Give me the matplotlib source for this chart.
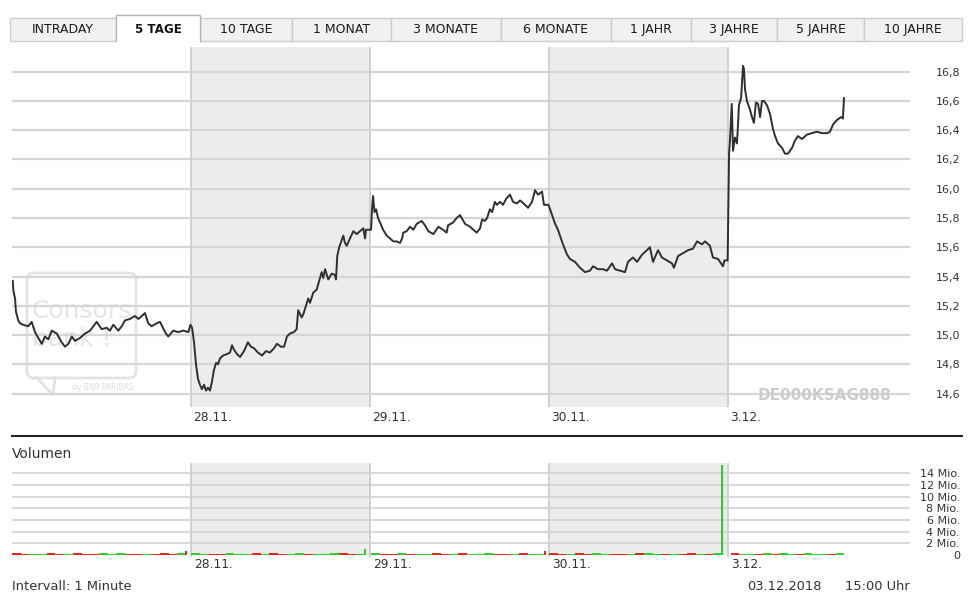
import matplotlib
matplotlib.use("Agg")
import matplotlib.pyplot as plt
import matplotlib.transforms as mtransforms
from matplotlib.patches import Rectangle, FancyBboxPatch
import numpy as np

plt.rcParams["font.family"] = ["DejaVu Sans"]

# ---------------- data ----------------
tab_labels = ["INTRADAY", "5 TAGE", "10 TAGE", "1 MONAT", "3 MONATE",
              "6 MONATE", "1 JAHR", "3 JAHRE", "5 JAHRE", "10 JAHRE"]
active_tab = "5 TAGE"
day_labels = ["27.11.", "28.11.", "29.11.", "30.11.", "3.12."]
shaded_days = [1, 3]

# price per trading day: position inside the session (0..1) and price
d1_t = [0.004, 0.008, 0.017, 0.022, 0.035, 0.045, 0.063, 0.091, 0.110, 0.128,
        0.147, 0.166, 0.184, 0.203, 0.222, 0.250, 0.278, 0.296, 0.315, 0.334,
        0.352, 0.380, 0.408, 0.436, 0.473, 0.501, 0.529, 0.547, 0.566, 0.594,
        0.613, 0.631, 0.659, 0.687, 0.706, 0.725, 0.743, 0.761, 0.780, 0.808,
        0.827, 0.855, 0.873, 0.901, 0.929, 0.957, 0.985, 0.997]
d1_p = [15.37, 15.30, 15.25, 15.16, 15.10, 15.08, 15.07, 15.06, 15.09, 15.02,
        14.98, 14.94, 14.99, 14.97, 15.03, 15.01, 14.95, 14.92, 14.94, 14.99,
        14.96, 14.98, 15.01, 15.03, 15.09, 15.04, 15.05, 15.03, 15.07, 15.03,
        15.06, 15.10, 15.11, 15.13, 15.11, 15.13, 15.15, 15.08, 15.06, 15.08,
        15.09, 15.02, 14.99, 15.03, 15.02, 15.03, 15.02, 15.07]

d2_t = [0.006, 0.017, 0.028, 0.039, 0.050, 0.061, 0.073, 0.084, 0.095, 0.106,
        0.117, 0.128, 0.140, 0.151, 0.162, 0.179, 0.201, 0.218, 0.229, 0.240,
        0.257, 0.274, 0.296, 0.318, 0.335, 0.352, 0.374, 0.397, 0.419, 0.441,
        0.464, 0.480, 0.503, 0.520, 0.536, 0.553, 0.575, 0.590, 0.599, 0.618,
        0.627, 0.655, 0.665, 0.683, 0.702, 0.730, 0.739, 0.749, 0.767, 0.786,
        0.804, 0.810, 0.817, 0.828, 0.851, 0.860, 0.870, 0.888, 0.907, 0.926,
        0.944, 0.963, 0.972, 0.978, 0.997]
d2_p = [15.05, 14.95, 14.80, 14.70, 14.66, 14.63, 14.66, 14.62, 14.64, 14.62,
        14.68, 14.76, 14.81, 14.80, 14.84, 14.86, 14.87, 14.88, 14.93, 14.90,
        14.87, 14.85, 14.89, 14.95, 14.92, 14.91, 14.88, 14.86, 14.89, 14.88,
        14.91, 14.94, 14.92, 14.92, 14.99, 15.01, 15.02, 15.04, 15.17, 15.12,
        15.14, 15.25, 15.22, 15.29, 15.31, 15.43, 15.39, 15.45, 15.38, 15.42,
        15.41, 15.38, 15.54, 15.60, 15.68, 15.63, 15.61, 15.66, 15.71, 15.69,
        15.71, 15.73, 15.66, 15.72, 15.72]

d3_t = [0.006, 0.011, 0.017, 0.025, 0.034, 0.045, 0.056, 0.073, 0.093, 0.112,
        0.130, 0.149, 0.168, 0.179, 0.186, 0.205, 0.223, 0.242, 0.261, 0.289,
        0.307, 0.326, 0.354, 0.382, 0.408, 0.428, 0.436, 0.465, 0.484, 0.503,
        0.531, 0.559, 0.577, 0.596, 0.615, 0.626, 0.642, 0.654, 0.670, 0.682,
        0.698, 0.709, 0.726, 0.743, 0.760, 0.782, 0.799, 0.821, 0.838, 0.849,
        0.866, 0.883, 0.905, 0.922, 0.939, 0.961, 0.972, 0.997]
d3_p = [15.72, 15.86, 15.95, 15.84, 15.86, 15.80, 15.77, 15.72, 15.68, 15.66,
        15.64, 15.64, 15.63, 15.66, 15.70, 15.71, 15.74, 15.72, 15.76, 15.78,
        15.75, 15.71, 15.69, 15.74, 15.72, 15.70, 15.75, 15.77, 15.80, 15.82,
        15.76, 15.74, 15.72, 15.70, 15.73, 15.79, 15.78, 15.80, 15.86, 15.84,
        15.91, 15.89, 15.91, 15.89, 15.93, 15.96, 15.91, 15.90, 15.92, 15.91,
        15.89, 15.87, 15.91, 15.99, 15.96, 15.98, 15.89, 15.89]

d4_t = [0.006, 0.017, 0.034, 0.050, 0.061, 0.078, 0.101, 0.117, 0.145, 0.173,
        0.201, 0.229, 0.246, 0.274, 0.302, 0.324, 0.352, 0.369, 0.397, 0.425,
        0.441, 0.469, 0.492, 0.520, 0.547, 0.564, 0.581, 0.609, 0.631, 0.659,
        0.687, 0.698, 0.721, 0.749, 0.777, 0.804, 0.827, 0.855, 0.872, 0.899,
        0.916, 0.944, 0.961, 0.972, 0.980, 0.998]
d4_p = [15.86, 15.82, 15.76, 15.72, 15.68, 15.62, 15.55, 15.52, 15.50, 15.46,
        15.43, 15.44, 15.47, 15.45, 15.45, 15.44, 15.49, 15.45, 15.44, 15.43,
        15.50, 15.53, 15.50, 15.55, 15.58, 15.60, 15.50, 15.58, 15.53, 15.51,
        15.49, 15.46, 15.54, 15.56, 15.58, 15.59, 15.64, 15.62, 15.64, 15.61,
        15.53, 15.52, 15.49, 15.47, 15.51, 15.51]

d5_t = [0.006, 0.011, 0.021, 0.028, 0.039, 0.050, 0.056, 0.061, 0.073, 0.084,
        0.089, 0.095, 0.106, 0.123, 0.134, 0.145, 0.156, 0.168, 0.179, 0.190,
        0.201, 0.218, 0.235, 0.251, 0.263, 0.279, 0.302, 0.318, 0.335, 0.358,
        0.374, 0.391, 0.413, 0.441, 0.469, 0.497, 0.525, 0.553, 0.570, 0.587,
        0.609, 0.631, 0.642, 0.648]
d5_p = [16.24, 16.33, 16.58, 16.26, 16.35, 16.31, 16.44, 16.57, 16.62, 16.84,
        16.82, 16.68, 16.60, 16.54, 16.49, 16.45, 16.59, 16.58, 16.49, 16.60,
        16.60, 16.57, 16.51, 16.41, 16.36, 16.31, 16.28, 16.24, 16.24, 16.28,
        16.33, 16.36, 16.34, 16.37, 16.38, 16.39, 16.38, 16.38, 16.39, 16.44,
        16.47, 16.49, 16.48, 16.62]

# volume (Mio.) of the session, g = up, r = down
vol_span = [(0.0, 0.972), (0.0, 0.972), (0.006, 0.978), (0.0, 0.966), (0.017, 0.648)]
vol_d1 = [0.30, 0.22, 0.25, 0.18, 0.27, 0.20, 0.24, 0.30, 0.19, 0.23, 0.26, 0.21, 0.28, 0.20, 0.22, 0.25, 0.19, 0.27, 0.23, 0.30]
vol_d2 = [0.28, 0.25, 0.20, 0.24, 0.30, 0.22, 0.19, 0.26, 0.23, 0.27, 0.21, 0.25, 0.29, 0.20, 0.24, 0.22, 0.26, 0.30, 0.21, 0.25]
vol_d3 = [0.26, 0.21, 0.24, 0.30, 0.19, 0.25, 0.22, 0.27, 0.20, 0.23, 0.28, 0.21, 0.24, 0.26, 0.19, 0.22, 0.25, 0.29, 0.20, 0.24]
vol_d4 = [0.29, 0.24, 0.21, 0.26, 0.22, 0.27, 0.20, 0.25, 0.23, 0.19, 0.26, 0.28, 0.21, 0.24, 0.22, 0.25, 0.27, 0.20, 0.23, 0.26]
vol_d5 = [0.27, 0.22, 0.25, 0.20, 0.28, 0.23, 0.26, 0.21, 0.24, 0.29, 0.22, 0.25, 0.20, 0.26]
vol_c = ["rrggrrgrrrgggrrgrrrg", "ggrrgggrgrrggrgggrrg", "grrgrggrrgrgggrrgrgg",
         "rrgrrggrrgrggrgrrgrg", "rggrgrggrgggrg"]
# single large prints at the session end
spike_t = [0.972, 1.972, 2.978, 3.966]
spike_v = [0.6, 1.0, 0.6, 15.4]
spike_c = ["r", "g", "r", "g"]

price_ticks = [14.6, 14.8, 15.0, 15.2, 15.4, 15.6, 15.8, 16.0, 16.2, 16.4, 16.6, 16.8]
vol_ticks = [0, 2, 4, 6, 8, 10, 12, 14]

isin = "DE000KSAG888"
interval_text = "Intervall: 1 Minute"
stamp_date = "03.12.2018"
stamp_time = "15:00 Uhr"

# ---------------- layout ----------------
W, H = 969, 599
tab_edges = [10, 116, 200, 292, 391, 501, 611, 691, 777, 864, 962]
col_map = {"g": "#33cc33", "r": "#e8261e"}
txt = "#333333"


def fx(x):
    return x / W


def fy(y):
    return 1 - y / H


fig = plt.figure(figsize=(W / 100, H / 100), dpi=100)
fig.patch.set_facecolor("white")

bg = fig.add_axes([0, 0, 1, 1], zorder=0)
bg.set_xlim(0, W)
bg.set_ylim(H, 0)
bg.axis("off")

# tabs
for i, lab in enumerate(tab_labels):
    x0, x1 = tab_edges[i], tab_edges[i + 1]
    if lab == active_tab:
        continue
    bg.add_patch(Rectangle((x0, 17.5), x1 - x0, 23.5, fc="#f1f1f1", ec="#cccccc", lw=1))
    bg.text((x0 + x1) / 2, 29.5, lab, ha="center", va="center", fontsize=9, color="#1a1a1a")
i = tab_labels.index(active_tab)
x0, x1 = tab_edges[i], tab_edges[i + 1]
bg.add_patch(Rectangle((x0, 15), x1 - x0, 28, fc="white", ec="#b5b5b5", lw=1))
bg.plot([x0 + 0.5, x1 - 0.5], [43, 43], color="white", lw=2)
bg.text((x0 + x1) / 2, 29.5, active_tab, ha="center", va="center",
        fontsize=8.6, fontweight="bold", color="#111111")

# watermark
bg.add_patch(FancyBboxPatch((27, 273), 109, 105, boxstyle="round,pad=0,rounding_size=7",
                            fc="none", ec="#e3e3e3", lw=2))
bg.plot([37, 53, 55], [378, 395, 378], color="#e3e3e3", lw=2)
bg.text(32, 311, "Consors", fontsize=18, color="#e6e6e6", va="center", ha="left")
bg.text(32, 339, "bank !", fontsize=18, color="#e6e6e6", va="center", ha="left")
bg.text(134, 388, "by BNP PARIBAS", fontsize=5.5, color="#dcdcdc", va="center", ha="right")

# separator + footer
bg.plot([12, 962], [436, 436], color="#222222", lw=1.5)
bg.text(12, 454, "Volumen", fontsize=10, color=txt, va="center", ha="left")
bg.text(12, 586.5, interval_text, fontsize=9.4, color=txt, va="center", ha="left")
bg.text(747, 586.5, stamp_date, fontsize=9.4, color=txt, va="center", ha="left")
bg.text(910, 586.5, stamp_time, fontsize=9.4, color=txt, va="center", ha="right")

# ---------------- price panel ----------------
x_max = (910 - 12) / 179.0
ax = fig.add_axes([fx(12), fy(407), (910 - 12) / W, (407 - 47) / H], zorder=1)
ax.patch.set_alpha(0)
for d in shaded_days:
    ax.axvspan(d, d + 1, color="#ececec", lw=0, zorder=0)
for v in price_ticks:
    ax.axhline(v, color="#d5d5d5", lw=1.6, zorder=1)
for d in range(1, len(day_labels)):
    ax.axvline(d, color="#d0d0d0", lw=1.4, zorder=1)

day_t = [d1_t, d2_t, d3_t, d4_t, d5_t]
day_p = [d1_p, d2_p, d3_p, d4_p, d5_p]
price_t = np.concatenate([np.array(t) + k for k, t in enumerate(day_t)])
price_v = np.concatenate([np.array(p) for p in day_p])
ax.plot(price_t, price_v, color="#2f2f2f", lw=1.4, zorder=3)

ax.text((825 - 12) / 179.0, 14.59, isin, fontsize=11, fontweight="bold", color="#cccccc",
        ha="center", va="center", zorder=2)

ax.set_xlim(0, x_max)
ax.set_ylim(14.508, 16.969)
ax.set_xticks([])
ax.yaxis.tick_right()
ax.set_yticks(price_ticks)
ax.set_yticklabels([("%.1f" % v).replace(".", ",") for v in price_ticks])
ax.tick_params(axis="y", length=0, pad=18.7, labelsize=8, labelcolor=txt)
for s in ax.spines.values():
    s.set_visible(False)
trans = mtransforms.blended_transform_factory(ax.transData, ax.transAxes)
for d in range(1, len(day_labels)):
    ax.text(d + 0.012, -0.011, day_labels[d], transform=trans, fontsize=8.8, color=txt,
            ha="left", va="top")

# ---------------- volume panel ----------------
vax = fig.add_axes([fx(12), fy(557), (910 - 12) / W, (557 - 463) / H], zorder=1)
vax.patch.set_alpha(0)
v_lo, v_hi = -0.343, 15.76
frac0 = (0 - v_lo) / (v_hi - v_lo)
for d in shaded_days:
    vax.axvspan(d, d + 1, ymin=frac0, ymax=1, color="#ececec", lw=0, zorder=0)
for v in vol_ticks[1:]:
    vax.axhline(v, color="#d5d5d5", lw=1.3, zorder=1)
for d in range(1, len(day_labels)):
    vax.axvline(d, color="#d0d0d0", lw=1.4, zorder=1)

vol_days = [vol_d1, vol_d2, vol_d3, vol_d4, vol_d5]
for k, vals in enumerate(vol_days):
    a, b = vol_span[k]
    n = len(vals)
    xs = k + np.linspace(a, b, n, endpoint=False)
    w = (b - a) / n
    cols = [col_map[c] for c in vol_c[k]]
    vax.bar(xs, vals, width=w, align="edge", color=cols, lw=0, zorder=3)
vax.vlines(spike_t, 0, spike_v, colors=[col_map[c] for c in spike_c], lw=1.5, zorder=3)

vax.set_xlim(0, x_max)
vax.set_ylim(v_lo, v_hi)
vax.set_xticks([])
vax.yaxis.tick_right()
vax.set_yticks(vol_ticks)
vax.set_yticklabels(["0" if v == 0 else "%d Mio." % v for v in vol_ticks])
vax.tick_params(axis="y", length=0, pad=36, labelsize=8, labelcolor=txt)
for lab in vax.get_yticklabels():
    lab.set_horizontalalignment("right")
for s in vax.spines.values():
    s.set_visible(False)
vtrans = mtransforms.blended_transform_factory(vax.transData, vax.transAxes)
for d in range(1, len(day_labels)):
    vax.text(d + 0.018, -0.01, day_labels[d], transform=vtrans, fontsize=8.8, color=txt,
             ha="left", va="top")

fig.savefig("out.png", dpi=100, facecolor="white")
